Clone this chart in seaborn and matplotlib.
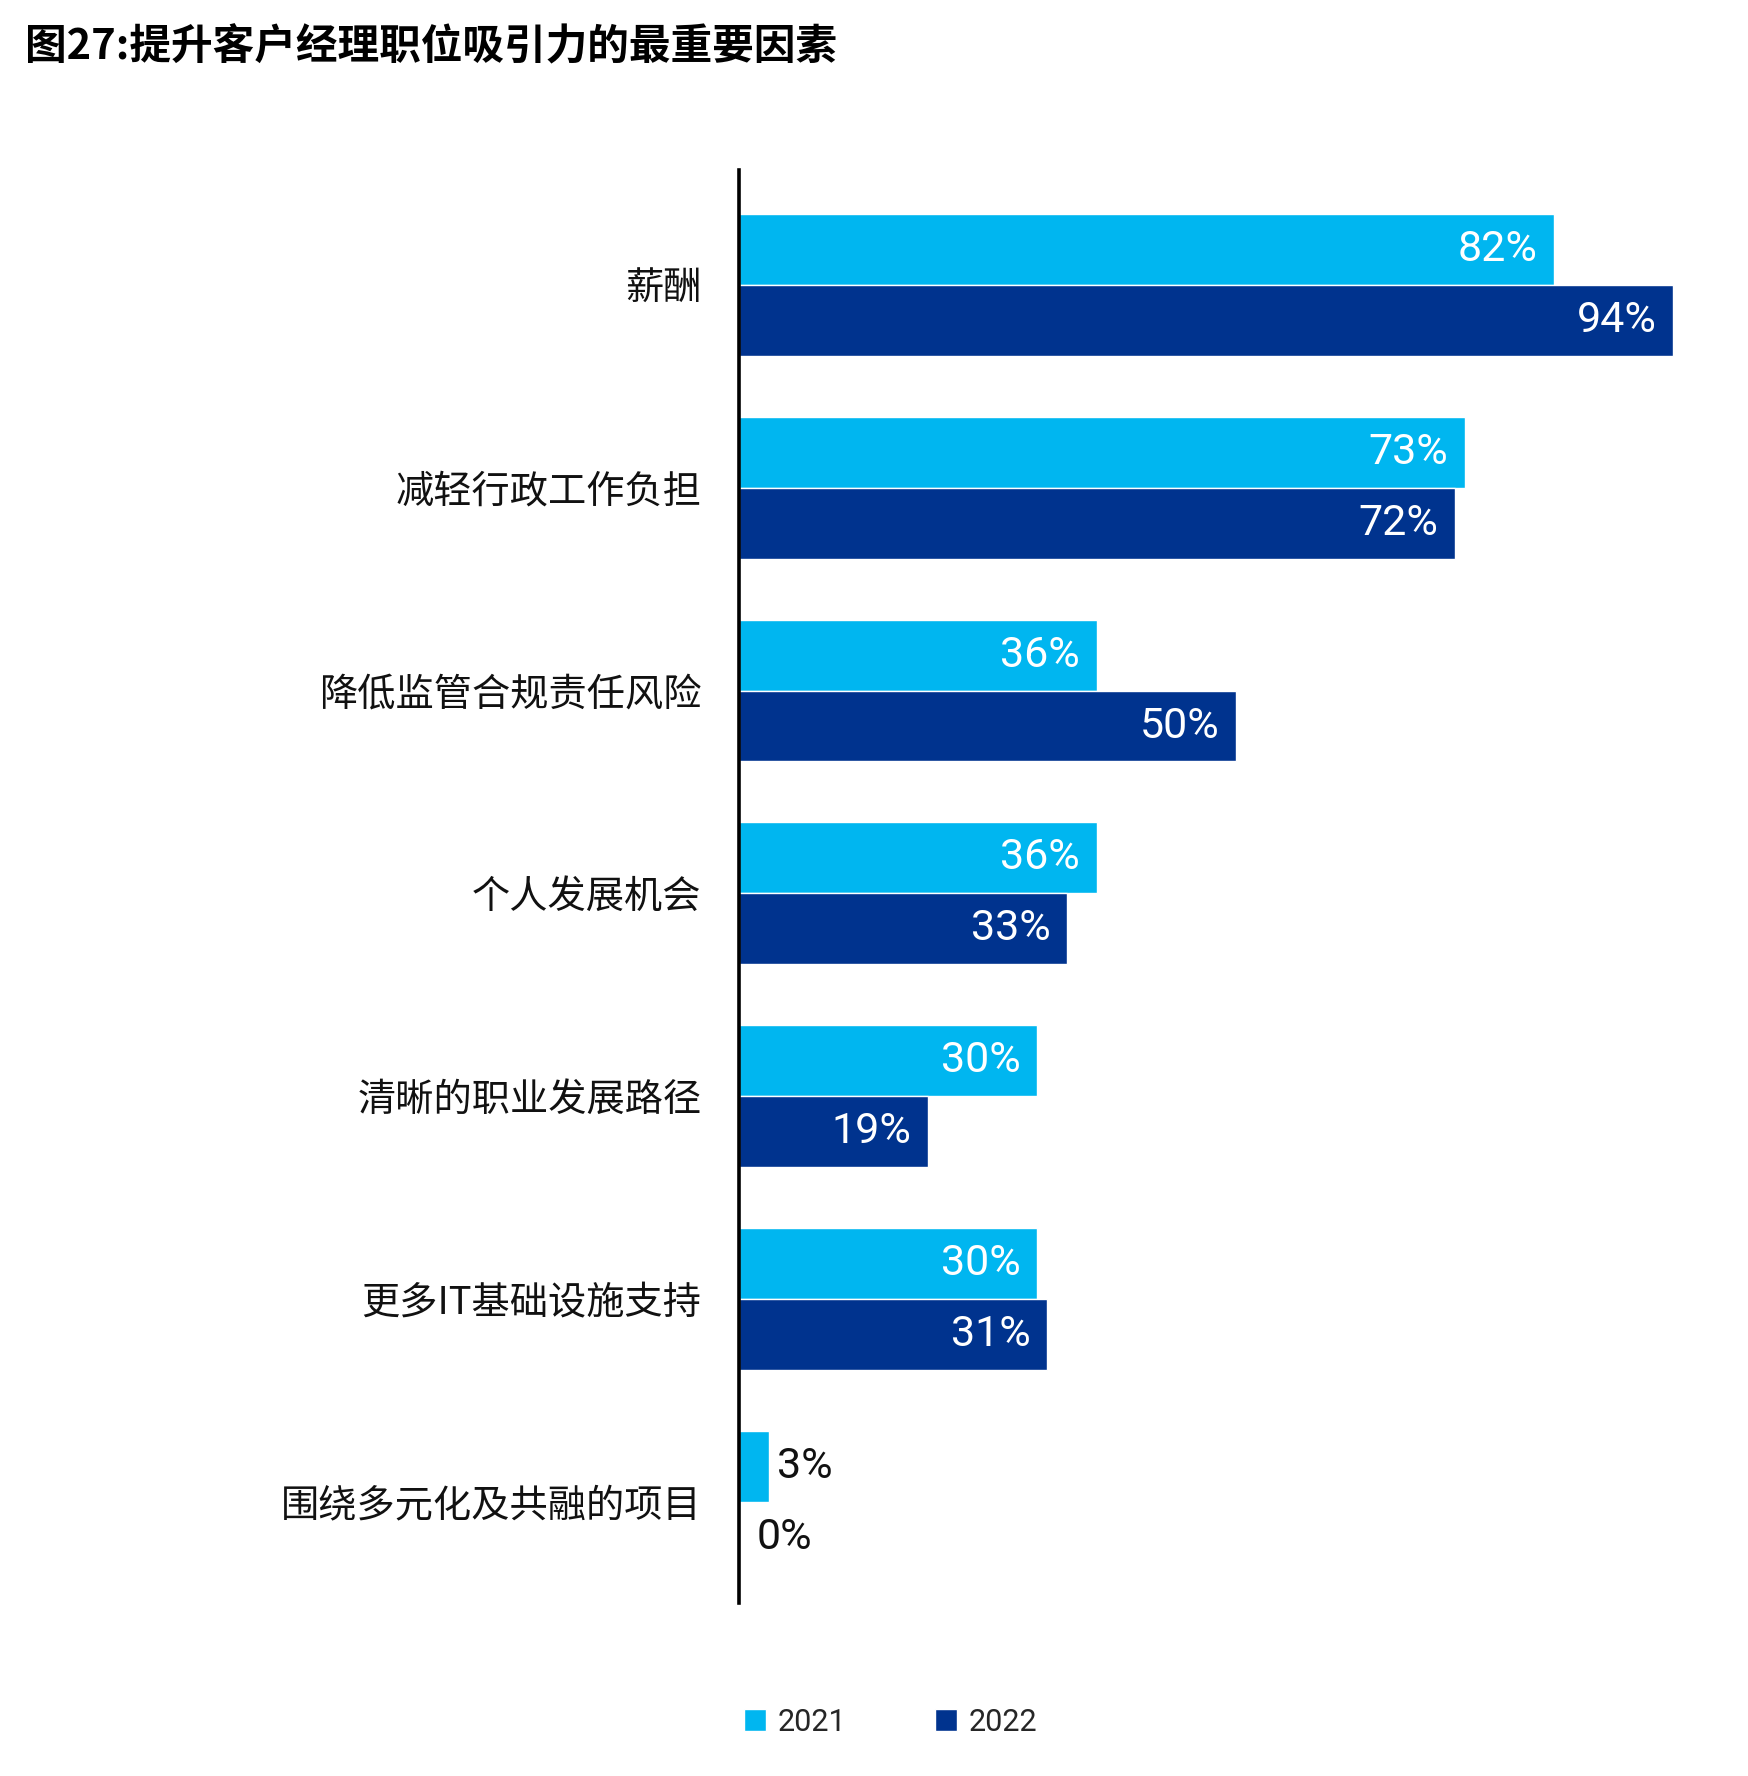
import matplotlib
matplotlib.use("Agg")
import matplotlib.pyplot as plt
import seaborn as sns
import pandas as pd


categories = ['薪酬', '减轻行政工作负担', '降低监管合规责任风险', '个人发展机会',
              '清晰的职业发展路径', '更多IT基础设施支持', '围绕多元化及共融的项目']
years = ['2021', '2022']
values_2021 = [82, 73, 36, 36, 30, 30, 3]
values_2022 = [94, 72, 50, 33, 19, 31, 0]
colors = ['#00B6F0', '#00338E']

title = '图27:提升客户经理职位吸引力的最重要因素'


df = pd.DataFrame({
    'category': categories * 2,
    'year': [years[0]] * len(categories) + [years[1]] * len(categories),
    'value': values_2021 + values_2022,
})

sns.set_style('white')
plt.rcParams['font.family'] = ['Noto Sans CJK SC', 'DejaVu Sans']
num_font = ['Roboto', 'DejaVu Sans']

fig = plt.figure(figsize=(17.49, 17.76), dpi=100)
ax = fig.add_axes([739 / 1749, 1 - 1603 / 1776, 994 / 1749, (1603 - 170) / 1776])

sns.barplot(
    data=df, y='category', x='value', hue='year',
    orient='h', palette=colors, width=0.7, gap=0,
    saturation=1, legend=True, ax=ax
)

ax.set_xlim(0, 100)
ax.set_ylim(6.5, -0.567)

# value labels: white inside the bar, black outside for tiny values
for container in ax.containers:
    for bar in container:
        v = bar.get_width()
        yc = bar.get_y() + bar.get_height() / 2
        label = f'{v:.0f}%'
        if v >= 10:
            ax.annotate(label, (v, yc), xytext=(-12, 0), textcoords='offset points',
                        ha='right', va='center', color='white', fontsize=31,
                        family=num_font)
        else:
            off = 6 if v > 0 else 13
            ax.annotate(label, (v, yc), xytext=(off, 0), textcoords='offset points',
                        ha='left', va='center', color='#111111', fontsize=31,
                        family=num_font)

ax.set_xlabel('')
ax.set_ylabel('')
ax.set_xticks([])
ax.tick_params(axis='y', length=0, pad=27, labelsize=27.5, labelcolor='#111111')

for side in ['top', 'right', 'bottom']:
    ax.spines[side].set_visible(False)
ax.spines['left'].set_color('black')
ax.spines['left'].set_linewidth(2.6)

handles, labels = ax.get_legend_handles_labels()
ax.get_legend().remove()
fig.legend(
    handles, labels, loc='center left',
    bbox_to_anchor=(717 / 1749, 1 - 1722 / 1776),
    ncol=2, frameon=False, handlelength=0.7, handleheight=0.7,
    handletextpad=0.4, columnspacing=2.9,
    prop={'family': num_font, 'size': 22}
)

fig.text(25 / 1749, 1 - 47 / 1776, title, fontsize=30, fontweight='bold',
         ha='left', va='center', color='black')

fig.savefig('out.png', dpi=100, facecolor='white')
